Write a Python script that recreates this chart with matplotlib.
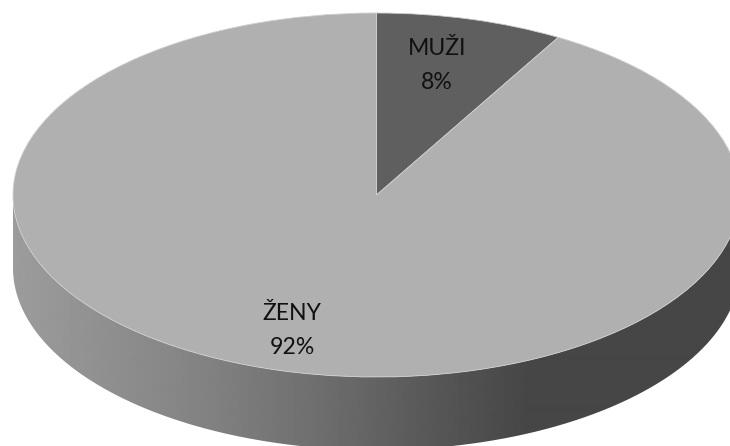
import numpy as np
import matplotlib
matplotlib.use("Agg")
import matplotlib.pyplot as plt
from matplotlib.patches import PathPatch
from matplotlib.path import Path

categories = ["MUŽI", "ŽENY"]
shares = [8, 92]
slice_colors = ["#5f5f5f", "#b0b0b0"]

W, H = 730, 446
CX, CY, RX, RY, DEPTH = 376.5, 195, 363.5, 182, 73
PERSPECTIVE_SWEEP = 30.0  # on-screen sweep of the 8% slice under the tilted view

fig = plt.figure(figsize=(W / 100, H / 100), dpi=100, facecolor="white")
ax = fig.add_axes([0, 0, 1, 1])

# One data unit = RX pixels across, RY pixels down, so the pie's circle becomes the ellipse.
wedges, _ = ax.pie(shares, colors=slice_colors, startangle=90, counterclock=False,
                   radius=1, center=(0, 0),
                   wedgeprops=dict(edgecolor="#cfcfcf", linewidth=0.6, zorder=3))
wedges[0].set_theta1(90 - PERSPECTIVE_SWEEP)
wedges[1].set_theta2(90 - PERSPECTIVE_SWEEP)
ax.set_aspect("auto")
xlim = (-CX / RX, (W - CX) / RX)
ylim = (-(H - CY) / RY, CY / RY)

# Side wall of the disc: lower half-ellipse and the same curve moved down by the depth
t = np.linspace(np.pi, 2 * np.pi, 400)
d = DEPTH / RY
xs = np.cos(t)
ys = np.sin(t)
verts = np.column_stack([np.r_[xs, xs[::-1]], np.r_[ys, ys[::-1] - d]])
clip = PathPatch(Path(np.vstack([verts, verts[:1]])), transform=ax.transData,
                 facecolor="none", edgecolor="none")
ax.add_patch(clip)

px = np.arange(W)
grey = np.interp(px, [13, 200, 320, 440, 530], [156, 131, 110, 86, 70])
grad = ax.imshow(grey[None, :], cmap="gray", vmin=0, vmax=255, aspect="auto",
                 extent=(xlim[0], xlim[1], ylim[0], ylim[1]), zorder=2,
                 interpolation="bilinear")
grad.set_clip_path(clip)

ax.set_xlim(xlim)
ax.set_ylim(ylim)
ax.axis("off")


def to_data(x, y):
    return (x - CX) / RX, (CY - y) / RY


label_pos = [(437, 65.5), (292, 330.5)]
for name, val, (lx, ly) in zip(categories, shares, label_pos):
    dx, dy = to_data(lx, ly)
    ax.text(dx, dy, f"{name}\n{val}%", ha="center", va="center", family="Lato",
            fontsize=16.6, color="#111111", linespacing=1.82, zorder=5)

fig.savefig("out.png", dpi=100, facecolor="white")
